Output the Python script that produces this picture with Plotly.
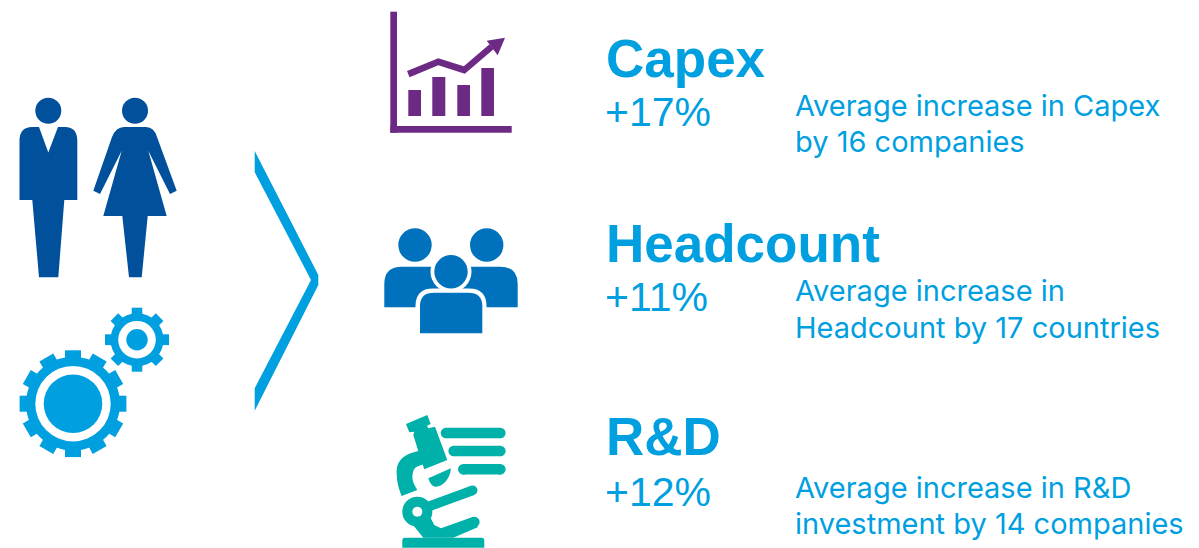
import numpy as np
import plotly.graph_objects as go

W, H = 1199, 548
NAVY = "#00509B"; SKY = "#009FDF"; PURPLE = "#6D2A85"; ROYAL = "#0071BC"; TEAL = "#00B1A9"
TITLE_FONT = "Liberation Sans"; PCT_FONT = "Liberation Sans"; BODY_FONT = "Inter"

titles = ["Capex", "Headcount", "R&D"]
title_baselines = [77, 262, 455]
percents = ["+17%", "+11%", "+12%"]
percent_baselines = [127, 312, 507]
descriptions = [["Average increase in Capex", "by 16 companies"],
                ["Average increase in", "Headcount by 17 countries"],
                ["Average increase in R&D", "investment by 14 companies"]]
desc_baselines = [[116, 152], [301, 338], [498, 534]]

shapes = []
def poly(pts, color):
    d = "M " + " L ".join(f"{x:.1f},{y:.1f}" for x, y in pts) + " Z"
    shapes.append(dict(type="path", path=d, fillcolor=color, line_width=0, layer="above"))
def path(d, color):
    shapes.append(dict(type="path", path=d, fillcolor=color, line_width=0, layer="above"))
def circle(cx, cy, r, color):
    shapes.append(dict(type="circle", x0=cx-r, x1=cx+r, y0=cy-r, y1=cy+r, fillcolor=color, line_width=0, layer="above"))
def rect(x0, y0, x1, y1, color):
    shapes.append(dict(type="rect", x0=x0, x1=x1, y0=y0, y1=y1, fillcolor=color, line_width=0, layer="above"))
def capsule(x0, y0, x1, y1, w, color):
    dx, dy = x1-x0, y1-y0
    L = np.hypot(dx, dy); nx, ny = -dy/L*w/2, dx/L*w/2
    poly([(x0+nx, y0+ny), (x1+nx, y1+ny), (x1-nx, y1-ny), (x0-nx, y0-ny)], color)
    circle(x0, y0, w/2, color); circle(x1, y1, w/2, color)
def gear(cx, cy, root, outer, tooth, n, color):
    circle(cx, cy, root, color)
    for i in range(n):
        a = 2*np.pi*i/n
        ux, uy = np.cos(a), np.sin(a); vx, vy = -uy, ux
        t = tooth/2
        poly([(cx+ux*(root-3)+vx*t, cy+uy*(root-3)+vy*t), (cx+ux*outer+vx*t, cy+uy*outer+vy*t),
              (cx+ux*outer-vx*t, cy+uy*outer-vy*t), (cx+ux*(root-3)-vx*t, cy+uy*(root-3)-vy*t)], color)

# man
circle(48.3, 110.7, 13, NAVY)
path("M 39,127 L 48.3,152.5 L 58,127 L 65,127 Q 77.3,127 77.3,141 L 77.3,200 L 64.3,200 L 58.3,277.3 L 39,277.3 L 32.3,200 L 19.5,200 L 19.5,141 Q 19.5,127 32,127 Z", NAVY)
# woman
circle(135, 110.7, 13, NAVY)
path("M 124,127 L 146,127 Q 154,127 157,137 L 176.7,190.7 L 170,194 L 148.3,150.7 L 166.7,216 L 147.7,216 L 141.7,277.3 L 129,277.3 L 122.3,216 L 103.3,216 L 121.7,150.7 L 100,194 L 93.3,190.7 L 112,137 Q 116,127 124,127 Z", NAVY)
# gears
gear(73, 403.7, 47, 53.4, 16, 12, SKY)
circle(73, 403.7, 37.7, "white"); circle(73, 403.7, 29.3, SKY)
gear(137, 339.7, 26.5, 32, 10.7, 8, SKY)
circle(137, 339.7, 18.8, "white"); circle(137, 339.7, 10.7, SKY)
# chevron
poly([(254.7,151),(318.3,275),(318.3,285),(254.7,410.7),(254.7,388.3),(311,280),(254.7,172.3)], SKY)
# chart icon
rect(390.3, 11.7, 397, 132.7, PURPLE); rect(390.3, 126, 511.7, 132.7, PURPLE)
for x0, x1, y0 in [(408.3,421,90),(432.3,445.3,77),(457.3,470,85),(481.3,494,68)]:
    rect(x0, y0, x1, 116, PURPLE)
poly([(407,71),(438.3,58.2),(463.8,66.2),(489.5,44.2),(493.5,49.2),(464.8,73.8),(438.3,65.2),(409.5,77.2)], PURPLE)
poly([(486.7,40.7),(505,37.7),(497.7,55.3)], PURPLE)
# people icon
circle(415, 245, 16.7, ROYAL); circle(486.7, 245, 16.7, ROYAL)
path("M 384.3,307.3 L 384.3,284 Q 384.3,266.7 402,266.7 L 500,266.7 Q 517.7,266.7 517.7,284 L 517.7,307.3 Z", ROYAL)
path("M 415.5,336 L 415.5,306 Q 415.5,288.5 433,288.5 L 469,288.5 Q 486.5,288.5 486.5,306 L 486.5,336 Z", "white")
path("M 420,333.3 L 420,306 Q 420,292.7 434,292.7 L 468,292.7 Q 482.3,292.7 482.3,306 L 482.3,333.3 Z", ROYAL)
circle(451, 271.7, 20.5, "white"); circle(451, 271.7, 16.7, ROYAL)
# microscope (sketched in the 3x crop's frame)
zx = lambda x: 385 + x/3
zy = lambda y: 410 + y/3
def zpath(cmds, color):
    out = []
    for c in cmds:
        out.append(c[0] + " " + " ".join(f"{zx(c[i]):.1f},{zy(c[i+1]):.1f}" for i in range(1, len(c), 2)))
    path(" ".join(out) + " Z", color)
capsule(zx(183),zy(69),zx(346),zy(69),10.6,TEAL)
capsule(zx(206),zy(123),zx(346),zy(123),10.6,TEAL)
capsule(zx(235),zy(178),zx(346),zy(178),10.6,TEAL)
poly([(zx(a),zy(b)) for a,b in [(63,42),(127,15),(137,42),(126,47),(130,55),(150,50),(187,150),(118,178),(105,140),(85,75),(88,65),(73,67)]], TEAL)
zpath([("M",105,122),("C",60,130,33,150,35,190),("C",35,215,42,240,50,258),("L",97,240),("C",85,220,78,205,85,183),("C",90,170,100,168,125,160)], TEAL)
zpath([("M",130,205),("L",198,175),("C",195,210,170,232,150,230),("C",140,228,135,220,130,205)], TEAL)
poly([(zx(a),zy(b)) for a,b in [(80,340),(115,383),(205,383),(278,352),(265,320),(168,355),(148,345),(135,320),(100,345)]], TEAL)
circle(zx(268),zy(336),5.3,TEAL)
circle(zx(97),zy(305),15,TEAL)
capsule(zx(130),zy(290),zx(263),zy(241),9.7,TEAL)
circle(zx(97),zy(305),5,"white")
zpath([("M",52,413),("L",52,392),("Q",52,383,60,383),("L",290,383),("Q",298,383,298,392),("L",298,413)], TEAL)

ann = []
def label(x, y, text, size, color, font, weight=400):
    ann.append(dict(x=x, y=y, text=text, xref="x", yref="y", xanchor="left", yanchor="bottom", showarrow=False,
                    align="left", borderpad=0, font=dict(size=size, color=color, family=font, weight=weight)))
for i in range(3):
    label(605, title_baselines[i]+12, titles[i], 53, SKY, TITLE_FONT, 700)
    label(604, percent_baselines[i]+9, percents[i], 41, SKY, PCT_FONT, 400)
    for ln, b in zip(descriptions[i], desc_baselines[i]):
        label(794, b+8, ln, 29, SKY, BODY_FONT, 400)

fig = go.Figure()
fig.update_layout(width=W, height=H, autosize=False, margin=dict(l=0, r=0, t=0, b=0), paper_bgcolor="white", plot_bgcolor="white",
                  xaxis=dict(range=[0, W], visible=False, fixedrange=True),
                  yaxis=dict(range=[H, 0], visible=False, fixedrange=True),
                  shapes=shapes, annotations=ann, showlegend=False)
fig.write_html("out.html", config=dict(displayModeBar=False),
               post_script="document.body.style.margin='0';document.body.style.overflow='hidden';")
